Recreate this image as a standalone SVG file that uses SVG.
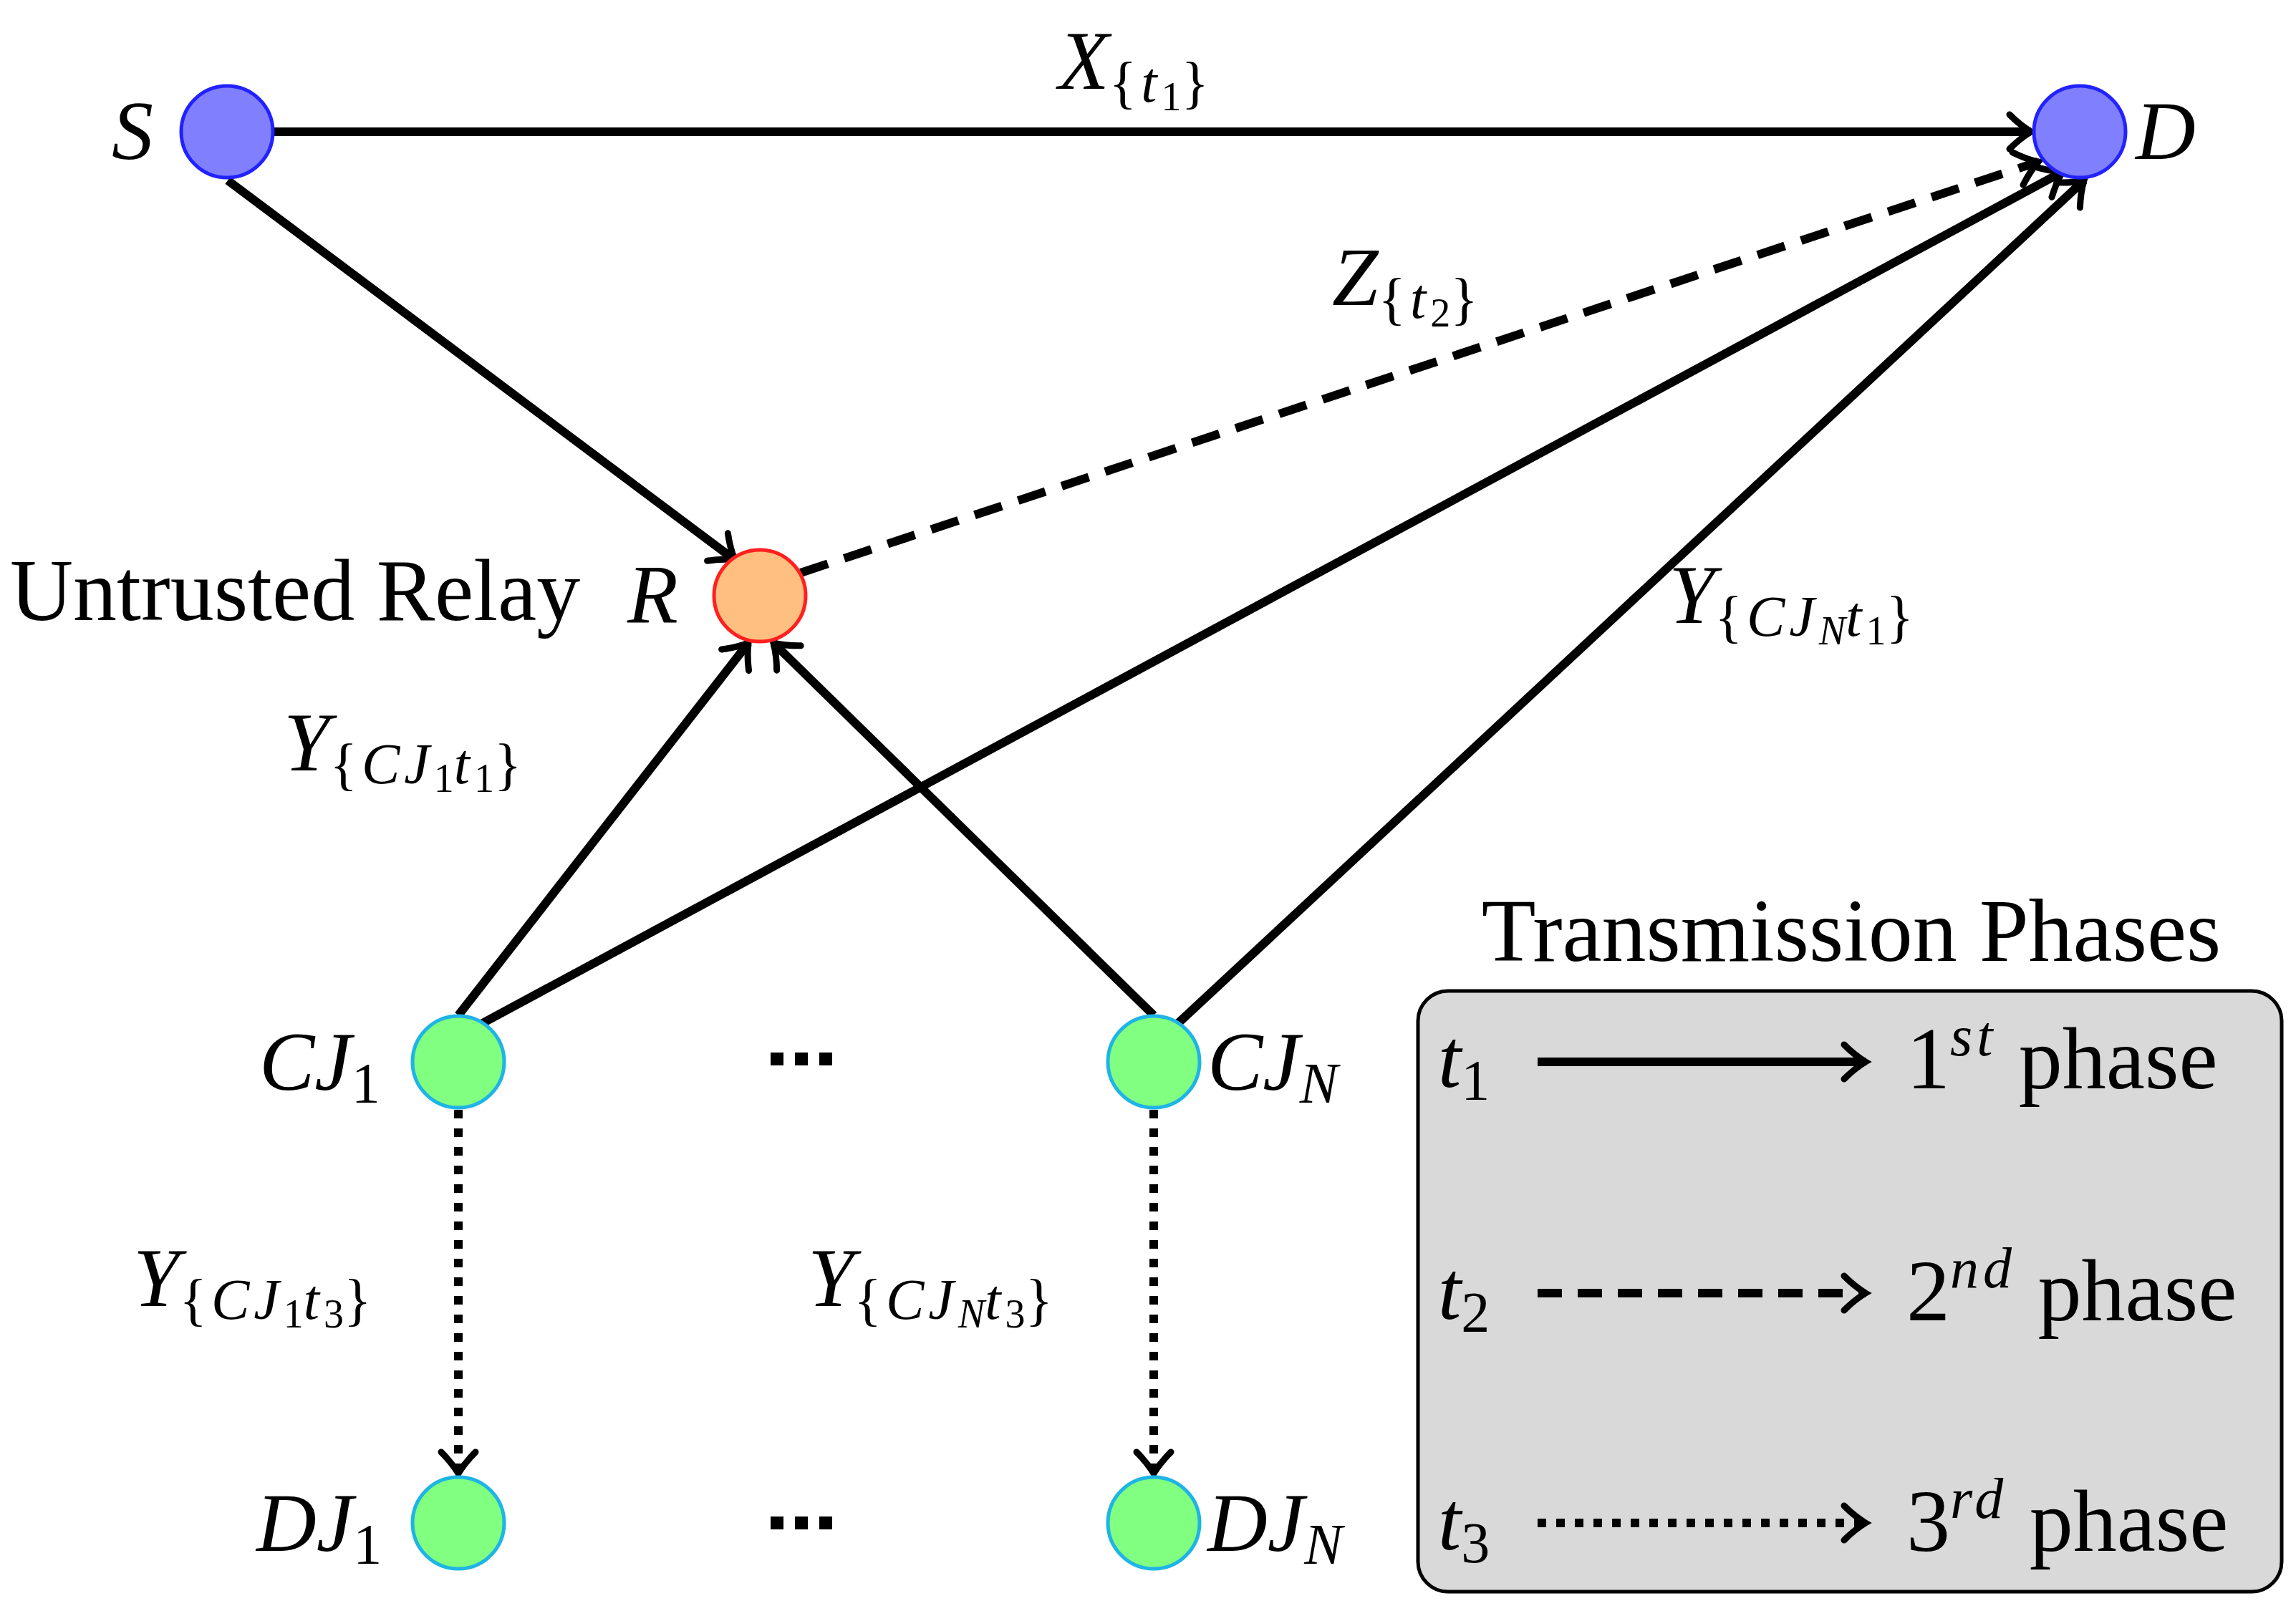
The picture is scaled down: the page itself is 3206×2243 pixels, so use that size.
<svg xmlns="http://www.w3.org/2000/svg" width="3206" height="2243" viewBox="0 0 3206 2243">
<style>
text{font-family:"Liberation Serif",serif;fill:#000}
.m{font-style:italic;font-size:116px}
.r{font-size:122px}
.sub{font-size:80px;letter-spacing:6px}
.ss{font-size:56px}
.e{fill:none;stroke:#000;stroke-width:12}
.bn{fill:#8080ff;stroke:#2222ff;stroke-width:5}
.gn{fill:#80ff80;stroke:#1eb4e6;stroke-width:5}
.dot{fill:#000}
</style>
<defs>
<marker id="a" markerUnits="userSpaceOnUse" viewBox="-30 -30 40 60" refX="4" refY="0" markerWidth="40" markerHeight="60" orient="auto" overflow="visible">
<path d="M-26,-24 C-16,-14 -6,-6 4,0 C-6,6 -16,14 -26,24" fill="none" stroke="#000" stroke-width="9" stroke-linecap="round"/>
</marker>
</defs>
<g id="connectors">
<line class="e" x1="382" y1="184" x2="2836" y2="184" marker-end="url(#a)"/>
<line class="e" x1="318" y1="252" x2="1026" y2="782" marker-end="url(#a)"/>
<line class="e" x1="1118" y1="800" x2="2846" y2="226" stroke-dasharray="40,24" marker-end="url(#a)"/>
<line class="e" x1="640" y1="1418" x2="1045" y2="898" marker-end="url(#a)"/>
<line class="e" x1="672" y1="1430" x2="2880" y2="240" marker-end="url(#a)"/>
<line class="e" x1="1611" y1="1418" x2="1080" y2="898" marker-end="url(#a)"/>
<line class="e" x1="1644" y1="1430" x2="2910" y2="252" marker-end="url(#a)"/>
<line class="e" x1="640" y1="1550" x2="640" y2="2058" stroke-dasharray="12,14" marker-end="url(#a)"/>
<line class="e" x1="1611" y1="1550" x2="1611" y2="2058" stroke-dasharray="12,14" marker-end="url(#a)"/>
</g>
<g id="S"><circle class="bn" cx="317" cy="184" r="64"/><text class="m" x="156" y="222">S</text></g>
<g id="D"><circle class="bn" cx="2904" cy="184" r="64"/><text class="m" x="2982" y="222">D</text></g>
<g id="R"><circle cx="1061" cy="832" r="64" fill="#ffbf80" stroke="#ff2020" stroke-width="5"/><text class="m" x="876" y="870">R</text>
<text class="r" x="14" y="866">Untrusted Relay</text></g>
<g id="CJ1"><circle class="gn" cx="640" cy="1483" r="64"/><text class="m" x="362" y="1522">CJ<tspan class="sub" font-style="normal" dy="18">1</tspan></text></g>
<g id="CJN"><circle class="gn" cx="1611" cy="1483" r="64"/><text class="m" x="1686" y="1522">CJ<tspan class="sub" dy="18">N</tspan></text></g>
<g id="DJ1"><circle class="gn" cx="640" cy="2127" r="64"/><text class="m" x="358" y="2166">DJ<tspan class="sub" font-style="normal" dy="18">1</tspan></text></g>
<g id="DJN"><circle class="gn" cx="1611" cy="2127" r="64"/><text class="m" x="1686" y="2166">DJ<tspan class="sub" dy="18">N</tspan></text></g>
<g id="dots">
<rect class="dot" x="1076" y="1470" width="18" height="18"/><rect class="dot" x="1110" y="1470" width="18" height="18"/><rect class="dot" x="1144" y="1470" width="18" height="18"/>
<rect class="dot" x="1076" y="2118" width="18" height="18"/><rect class="dot" x="1110" y="2118" width="18" height="18"/><rect class="dot" x="1144" y="2118" width="18" height="18"/>
</g>
<g id="labels">
<text class="m" x="1478" y="124">X<tspan class="sub" font-style="normal" dy="18">{</tspan><tspan class="sub">t</tspan><tspan class="ss" font-style="normal" dy="12">1</tspan><tspan class="sub" font-style="normal" dy="-12">}</tspan></text>
<text class="m" x="1860" y="426">Z<tspan class="sub" font-style="normal" dy="18">{</tspan><tspan class="sub">t</tspan><tspan class="ss" font-style="normal" dy="12">2</tspan><tspan class="sub" font-style="normal" dy="-12">}</tspan></text>
<text class="m" x="2330" y="870">Y<tspan class="sub" font-style="normal" dy="18">{</tspan><tspan class="sub">CJ</tspan><tspan class="ss" dy="12">N</tspan><tspan class="sub" dy="-12">t</tspan><tspan class="ss" font-style="normal" dy="12">1</tspan><tspan class="sub" font-style="normal" dy="-12">}</tspan></text>
<text class="m" x="396" y="1076">Y<tspan class="sub" font-style="normal" dy="18">{</tspan><tspan class="sub">CJ</tspan><tspan class="ss" font-style="normal" dy="12">1</tspan><tspan class="sub" dy="-12">t</tspan><tspan class="ss" font-style="normal" dy="12">1</tspan><tspan class="sub" font-style="normal" dy="-12">}</tspan></text>
<text class="m" x="186" y="1824">Y<tspan class="sub" font-style="normal" dy="18">{</tspan><tspan class="sub">CJ</tspan><tspan class="ss" font-style="normal" dy="12">1</tspan><tspan class="sub" dy="-12">t</tspan><tspan class="ss" font-style="normal" dy="12">3</tspan><tspan class="sub" font-style="normal" dy="-12">}</tspan></text>
<text class="m" x="1128" y="1824">Y<tspan class="sub" font-style="normal" dy="18">{</tspan><tspan class="sub">CJ</tspan><tspan class="ss" dy="12">N</tspan><tspan class="sub" dy="-12">t</tspan><tspan class="ss" font-style="normal" dy="12">3</tspan><tspan class="sub" font-style="normal" dy="-12">}</tspan></text>
</g>
<g id="legend">
<text class="r" x="2585" y="1342" text-anchor="middle" style="font-size:124px">Transmission Phases</text>
<rect x="1980" y="1384" width="1206" height="839" rx="42" fill="#d9d9d9" stroke="#000" stroke-width="5"/>
<text class="m" x="2008" y="1518">t<tspan class="sub" font-style="normal" dy="18">1</tspan></text>
<line class="e" x1="2147" y1="1483" x2="2605" y2="1483" marker-end="url(#a)"/>
<text class="r" x="2662" y="1520">1<tspan class="sub" font-style="italic" dy="-46">st</tspan><tspan dy="46"> phase</tspan></text>
<text class="m" x="2008" y="1842">t<tspan class="sub" font-style="normal" dy="18">2</tspan></text>
<line class="e" x1="2147" y1="1806" x2="2605" y2="1806" stroke-dasharray="34,22" marker-end="url(#a)"/>
<text class="r" x="2662" y="1844">2<tspan class="sub" font-style="italic" dy="-46">nd</tspan><tspan dy="46"> phase</tspan></text>
<text class="m" x="2008" y="2164">t<tspan class="sub" font-style="normal" dy="18">3</tspan></text>
<line class="e" x1="2147" y1="2127" x2="2605" y2="2127" stroke-dasharray="12,14" marker-end="url(#a)"/>
<text class="r" x="2662" y="2166">3<tspan class="sub" font-style="italic" dy="-46">rd</tspan><tspan dy="46"> phase</tspan></text>
</g>
</svg>
